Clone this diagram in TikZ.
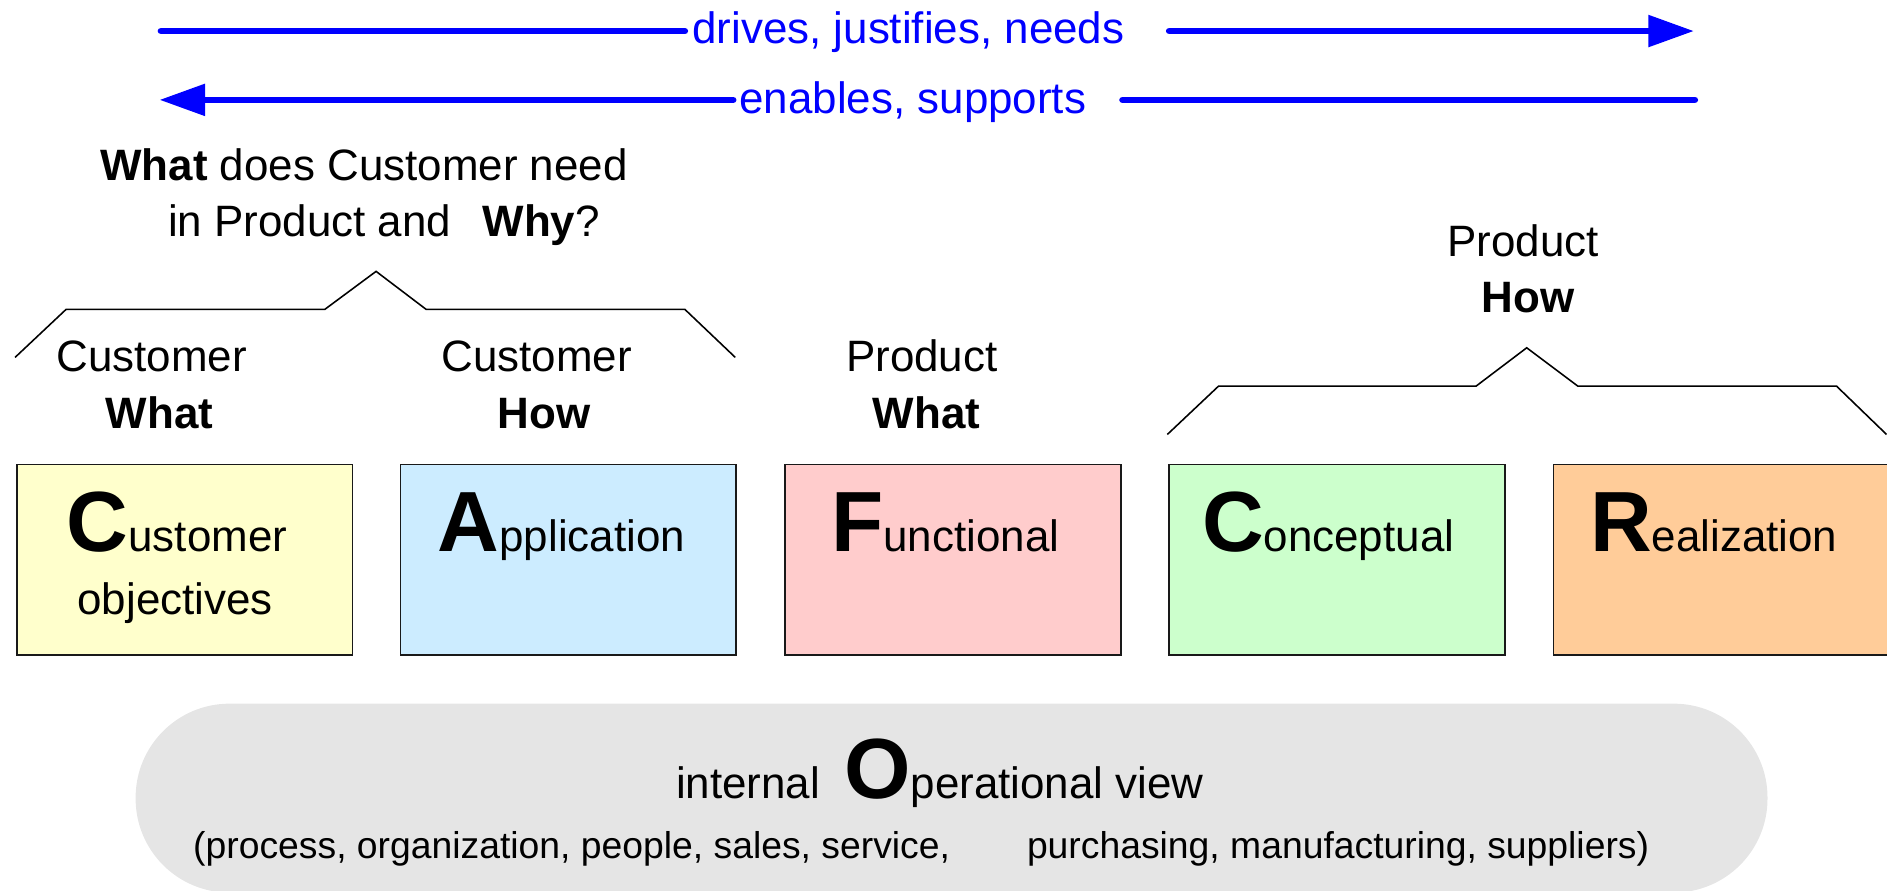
\documentclass[tikz,border=0pt]{standalone}
\usepackage{fontspec}
\setmainfont{Liberation Sans}
\usetikzlibrary{arrows.meta}
\definecolor{cyel}{HTML}{FFFFCC}
\definecolor{cblu}{HTML}{CCECFF}
\definecolor{cpnk}{HTML}{FFCCCC}
\definecolor{cgrn}{HTML}{CCFFCC}
\definecolor{corg}{HTML}{FFCC99}
\definecolor{cgry}{HTML}{E5E5E5}
\newcommand\nsz{\fontsize{36.5}{44}\selectfont}
\newcommand\ssz{\fontsize{31}{37}\selectfont}
\newcommand\biglet[1]{{\fontsize{71}{80}\selectfont\bfseries #1}}
\begin{document}
\begin{tikzpicture}[x=1pt,y=-1pt,
  lbl/.style={inner sep=0pt, anchor=base, font=\nsz},
  smlbl/.style={inner sep=0pt, anchor=base, font=\ssz},
  blulbl/.style={lbl, text=blue},
  bluline/.style={draw=blue, line width=5.5pt, line cap=round},
  tip/.style={-{Triangle[length=38pt,width=25.5pt]}},
  brk/.style={draw=black, line width=1.3pt, line join=miter},
  viewbox/.style={draw=black!90, line width=1.4pt, minimum width=279pt, minimum height=158.5pt, inner sep=0pt, anchor=north west},
]
\useasboundingbox (0,0) rectangle (1568,740.37);

% operational view background
\node (ops) [fill=cgry, rounded corners=78pt, minimum width=1356pt, minimum height=157pt, inner sep=0pt, anchor=north west] at (112.5,584.5) {};

% blue arrows
\coordinate (a1s) at (133.75,25.8);
\coordinate (a1e) at (1407.6,25.8);
\node[blulbl] (drv) at (754.8,36) {drives, justifies, needs};
\draw[bluline, shorten >=6pt] (a1s) -- (drv.west |- a1s);
\draw[bluline, tip, shorten <=37pt] (drv.east |- a1s) -- (a1e);

\coordinate (a2s) at (1408.3,83);
\coordinate (a2e) at (132.5,83);
\node[blulbl] (ena) at (758.5,94.2) {enables, supports};
\draw[bluline, tip, shorten <=5pt] (ena.west |- a2s) -- (a2e);
\draw[bluline, shorten <=30pt] (ena.east |- a2s) -- (a2s);

% question
\node[lbl] (q1) at (302.5,149.6) {\textbf{What} does Customer need};
\node[lbl] (q2) at (319,196.7) {in Product and\hspace{26pt}\textbf{Why}?};

% brackets
\draw[brk] (12.5,297) -- (55,257) -- (270,257) -- (312.5,225.5) -- (354,257) -- (569,257) -- (611,297);
\draw[brk] (970,361) -- (1012.6,320.8) -- (1226.6,320.8) -- (1268.6,289) -- (1311,320.8) -- (1526,320.8) -- (1567.6,361);

% headings
\node[lbl] (cw1) at (126,309) {Customer};
\node[lbl] (cw2) at (132.5,356) {\textbf{What}};
\node[lbl] (ch1) at (446,309) {Customer};
\node[lbl] (ch2) at (452,356) {\textbf{How}};
\node[lbl] (pw1) at (766,309) {Product};
\node[lbl] (pw2) at (770,356) {\textbf{What}};
\node[lbl] (ph1) at (1265.6,213) {Product};
\node[lbl] (ph2) at (1270,260) {\textbf{How}};

% boxes
\node[viewbox, fill=cyel] (bC) at (13.15,385.15) {};
\node[viewbox, fill=cblu] (bA) at (332.15,385.15) {};
\node[viewbox, fill=cpnk] (bF) at (651.65,385.15) {};
\node[viewbox, fill=cgrn] (bK) at (970.65,385.15) {};
\node[viewbox, fill=corg] (bR) at (1290.15,385.15) {};

\node[lbl] (tC) at (147,458.4) {\biglet{C}ustomer};
\node[lbl] (tC2) at (145.5,511) {objectives};
\node[lbl] (tA) at (466.5,458.4) {\biglet{A}pplication};
\node[lbl] (tF) at (785.5,458.4) {\biglet{F}unctional};
\node[lbl] (tK) at (1103.6,458.4) {\biglet{C}onceptual};
\node[lbl] (tR) at (1424,458.4) {\biglet{R}ealization};

% operational text
\node[lbl] (o1) at (781,663.4) {internal\hspace{20pt}\biglet{O}perational view};
\node[smlbl] (o2) at (765.5,713.3) {(process, organization, people, sales, service,\hspace{64pt}purchasing, manufacturing, suppliers)};
\end{tikzpicture}
\end{document}
